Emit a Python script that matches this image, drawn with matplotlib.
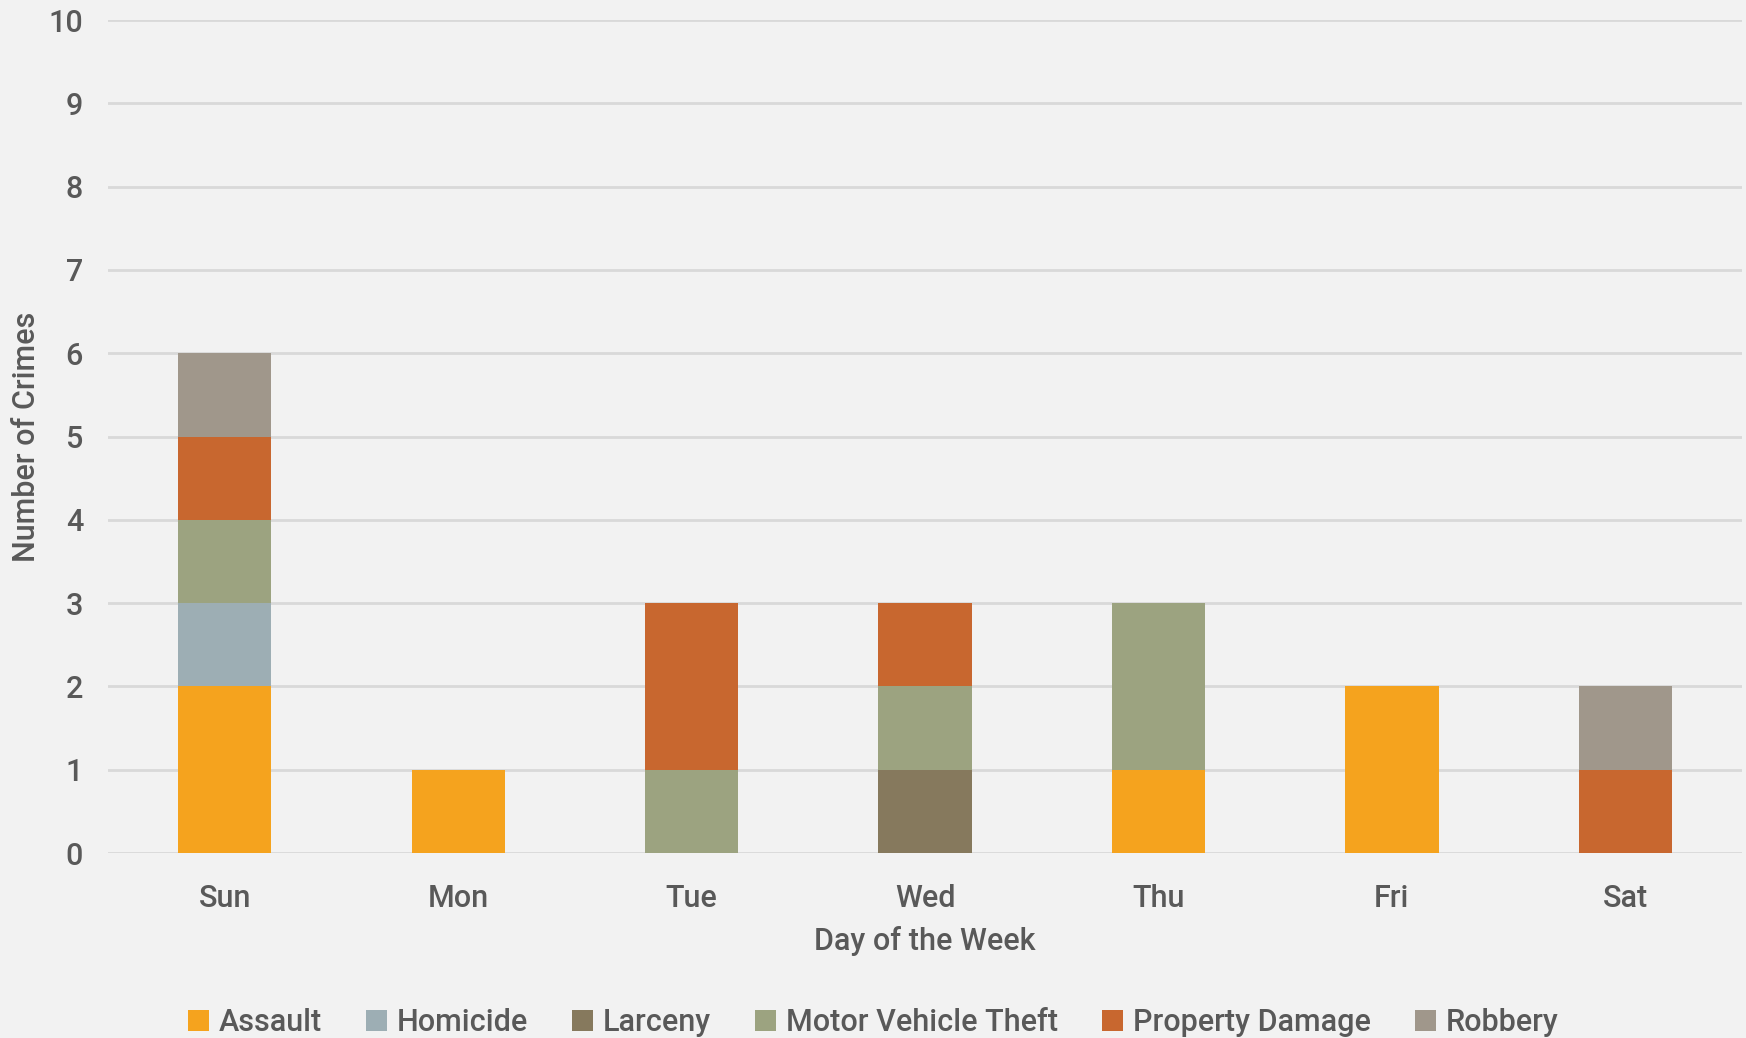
import matplotlib
matplotlib.use("Agg")
import matplotlib.pyplot as plt
import numpy as np

plt.rcParams['font.family'] = ['Roboto', 'DejaVu Sans']
plt.rcParams['font.weight'] = 'medium'
plt.rcParams['axes.labelweight'] = 'medium'

days = ["Sun", "Mon", "Tue", "Wed", "Thu", "Fri", "Sat"]

# crimes per day, one list per type
assault = [2, 1, 0, 0, 1, 2, 0]
homicide = [1, 0, 0, 0, 0, 0, 0]
larceny = [0, 0, 0, 1, 0, 0, 0]
motor_vehicle_theft = [1, 0, 1, 1, 2, 0, 0]
property_damage = [1, 0, 2, 1, 0, 0, 1]
robbery = [1, 0, 0, 0, 0, 0, 1]

series = [
    ("Assault", assault, "#F5A31E"),
    ("Homicide", homicide, "#9DAEB4"),
    ("Larceny", larceny, "#86795D"),
    ("Motor Vehicle Theft", motor_vehicle_theft, "#9CA380"),
    ("Property Damage", property_damage, "#C8672F"),
    ("Robbery", robbery, "#A0978B"),
]

txt = "#595959"
bg = "#F2F2F2"

fig = plt.figure(figsize=(17.46, 10.38), dpi=100, facecolor=bg)
ax = fig.add_axes([0.0619, 0.1782, 0.9358, 0.8025], facecolor=bg)

x = np.arange(len(days))
bottom = np.zeros(len(days))
for name, vals, col in series:
    vals = np.array(vals)
    ax.bar(x, vals, 0.4, bottom=bottom, color=col, label=name, zorder=3)
    bottom += vals

ax.set_xlim(-0.5, 6.5)
ax.set_ylim(0, 10)
ax.set_yticks(range(0, 11))
ax.yaxis.grid(True, color="#D9D9D9", linewidth=2, zorder=0)
for s in ax.spines.values():
    s.set_visible(False)
ax.tick_params(length=0, labelsize=22, colors=txt)
ax.tick_params(axis="x", pad=22)
ax.tick_params(axis="y", pad=18)
ax.set_xticks(x)
ax.set_xticklabels(days)

ax.set_xlabel("Day of the Week", fontsize=22, color=txt, labelpad=10)
ax.set_ylabel("Number of Crimes", fontsize=22, color=txt)
ax.yaxis.set_label_coords(-0.041, 0.5)

leg = fig.legend(loc="lower center", bbox_to_anchor=(0.5, -0.026), ncol=6, frameon=False,
                 fontsize=22, handlelength=0.7, handleheight=0.7, handletextpad=0.3,
                 columnspacing=1.45)
for t in leg.get_texts():
    t.set_color(txt)

fig.savefig("out.png", dpi=100, facecolor=bg)
